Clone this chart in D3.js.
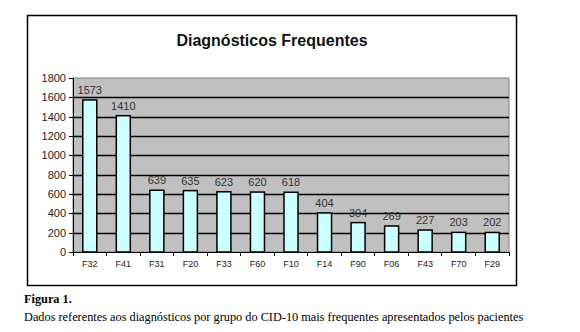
<!DOCTYPE html>
<html lang="pt">
<head>
    <meta charset="UTF-8">
    <title>Diagnósticos Frequentes</title>
    <script src="https://cdn.jsdelivr.net/npm/d3@7/dist/d3.min.js"></script>
    <style>
        body { margin: 0; background: #fff; }
        svg g.axis path, svg g.axis line {
            stroke: #000;
            shape-rendering: crispEdges;
        }
        svg g.axis text {
            font-family: Arial, "Liberation Sans", sans-serif;
            fill: #222;
        }
    </style>
</head>
<body>
    <script>
        //data
        var categories = ['F32', 'F41', 'F31', 'F20', 'F33', 'F60', 'F10', 'F14', 'F90', 'F06', 'F43', 'F70', 'F29'];
        var values = [1573, 1410, 639, 635, 623, 620, 618, 404, 304, 269, 227, 203, 202];
        var yTicks = [0, 200, 400, 600, 800, 1000, 1200, 1400, 1600, 1800];

        //sizes (avoid 'top' — it clashes with window.top)
        var w = 580;
        var h = 332;
        var plotLeft = 73, plotRight = 509, plotTop = 78, plotBottom = 252;

        var svg = d3.select('body')
                    .append('svg')
                    .attr('width', w)
                    .attr('height', h);

        //outer frame
        svg.append('rect')
            .attr('x', 27.5).attr('y', 15.5)
            .attr('width', 489).attr('height', 270)
            .attr('fill', '#fff')
            .attr('stroke', '#000')
            .attr('stroke-width', 1.5);

        //title
        svg.append('text')
            .attr('x', 272).attr('y', 46)
            .attr('text-anchor', 'middle')
            .attr('font-family', 'Arial, "Liberation Sans", sans-serif')
            .attr('font-weight', 'bold')
            .attr('font-size', '16px')
            .attr('fill', '#111')
            .text('Diagnósticos Frequentes');

        //scales
        var xScale = d3.scaleBand()
                        .domain(categories)
                        .range([plotLeft, plotRight]);

        var yScale = d3.scaleLinear()
                        .domain([0, 1800])
                        .range([plotBottom, plotTop]);

        //plot background
        svg.append('rect')
            .attr('x', plotLeft).attr('y', plotTop)
            .attr('width', plotRight - plotLeft).attr('height', plotBottom - plotTop)
            .attr('fill', '#c0c0c0')
            .attr('stroke', '#808080');

        //gridlines
        svg.selectAll('line.grid')
            .data(yTicks.slice(1, -1))
            .enter()
            .append('line')
            .attr('class', 'grid')
            .attr('x1', plotLeft).attr('x2', plotRight)
            .attr('y1', function(d) { return Math.round(yScale(d)) + 0.5; })
            .attr('y2', function(d) { return Math.round(yScale(d)) + 0.5; })
            .attr('stroke', '#000')
            .attr('stroke-width', 1.5);

        //bars
        var barW = 14;
        svg.selectAll('rect.bar')
            .data(values)
            .enter()
            .append('rect')
            .attr('class', 'bar')
            .attr('x', function(d, i) { return xScale(categories[i]) + xScale.bandwidth() / 2 - barW / 2; })
            .attr('y', function(d) { return yScale(d); })
            .attr('width', barW)
            .attr('height', function(d) { return plotBottom - yScale(d); })
            .attr('fill', '#ccffff')
            .attr('stroke', '#000')
            .attr('stroke-width', 1.5);

        //value labels
        svg.selectAll('text.val')
            .data(values)
            .enter()
            .append('text')
            .attr('class', 'val')
            .attr('x', function(d, i) { return xScale(categories[i]) + xScale.bandwidth() / 2; })
            .attr('y', function(d) { return yScale(d) - 6; })
            .attr('text-anchor', 'middle')
            .attr('font-family', 'Arial, "Liberation Sans", sans-serif')
            .attr('font-size', '11px')
            .attr('fill', '#333')
            .text(function(d) { return d; });

        //axes
        var xAxis = d3.axisBottom(xScale).tickSize(0).tickPadding(9);
        var yAxis = d3.axisLeft(yScale)
                        .tickValues(yTicks)
                        .tickFormat(d3.format('d'))
                        .tickSize(4)
                        .tickPadding(3);

        var gx = svg.append('g')
            .attr('class', 'axis')
            .attr('transform', 'translate(0,' + plotBottom + ')')
            .call(xAxis);
        gx.selectAll('text').attr('font-size', '9px');
        gx.select('.domain').attr('stroke-width', 1.5);

        //x tick marks at band edges
        gx.selectAll('line.edge')
            .data(categories.concat(['end']))
            .enter()
            .append('line')
            .attr('class', 'edge')
            .attr('x1', function(d, i) { return plotLeft + i * xScale.bandwidth(); })
            .attr('x2', function(d, i) { return plotLeft + i * xScale.bandwidth(); })
            .attr('y1', 0).attr('y2', 4)
            .attr('stroke', '#000');

        var gy = svg.append('g')
            .attr('class', 'axis')
            .attr('transform', 'translate(' + plotLeft + ',0)')
            .call(yAxis);
        gy.selectAll('text').attr('font-size', '11px').attr('fill', '#111');
        gy.select('.domain').attr('stroke-width', 1.5);

        //caption
        svg.append('text')
            .attr('x', 24).attr('y', 303)
            .attr('font-family', '"Liberation Serif", "Times New Roman", serif')
            .attr('font-weight', 'bold')
            .attr('font-size', '12.3px')
            .text('Figura 1.');

        svg.append('text')
            .attr('x', 24).attr('y', 321)
            .attr('font-family', '"Liberation Serif", "Times New Roman", serif')
            .attr('font-size', '12.3px')
            .text('Dados referentes aos diagnósticos por grupo do CID-10 mais frequentes apresentados pelos pacientes');
    </script>
</body>
</html>
